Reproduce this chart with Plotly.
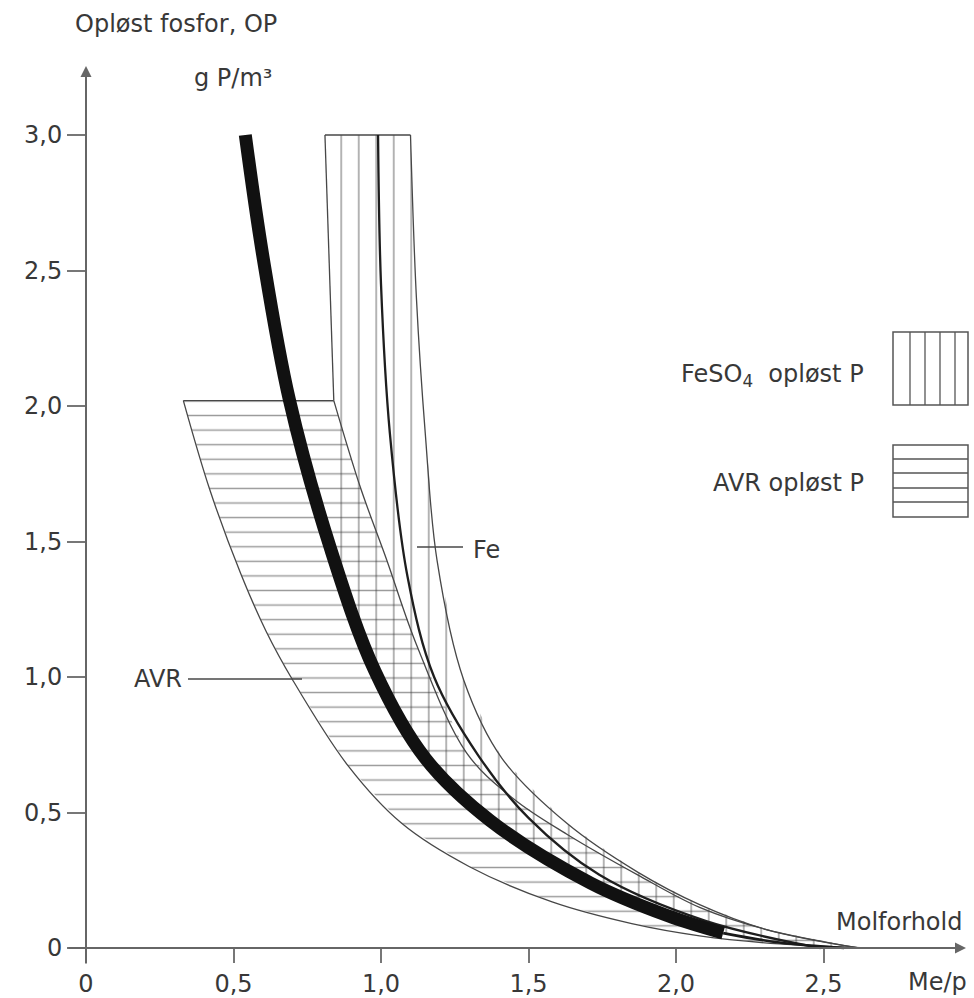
import plotly.graph_objects as go

# ---------------- data ----------------
# thick black curve (Me/p vs dissolved P)
thick_x = [0.54, 0.60, 0.69, 0.83, 0.98, 1.15, 1.37, 1.71, 1.97, 2.16]
thick_y = [3.00, 2.55, 2.02, 1.47, 1.02, 0.70, 0.47, 0.24, 0.12, 0.055]
# thin continuation of the thick curve
tail_x = [2.16, 2.35, 2.57]
tail_y = [0.055, 0.02, 0.00]

# AVR band (horizontal hatching)
avr_top_x = [0.33, 0.84]
avr_top_y = [2.02, 2.02]
avr_lower_x = [0.33, 0.42, 0.525, 0.61, 0.70, 0.89, 1.07, 1.30, 1.58, 1.85, 2.08, 2.35, 2.65]
avr_lower_y = [2.02, 1.69, 1.38, 1.17, 0.99, 0.67, 0.46, 0.30, 0.17, 0.09, 0.045, 0.015, 0.0]
avr_right_x = [0.84, 0.93, 1.02, 1.12, 1.29, 1.45, 1.63, 1.87, 2.08, 2.30, 2.62]
avr_right_y = [2.02, 1.70, 1.43, 1.12, 0.72, 0.55, 0.42, 0.27, 0.15, 0.07, 0.0]

# FeSO4 band (vertical hatching)
fe_top_x = [0.81, 1.10]
fe_top_y = [3.00, 3.00]
fe_left_x = [0.81, 0.84, 0.85]
fe_left_y = [3.00, 2.02, 1.42]
fe_right_x = [1.10, 1.12, 1.15, 1.19, 1.28, 1.41, 1.63, 1.87, 2.08, 2.30, 2.62]
fe_right_y = [3.00, 2.40, 1.90, 1.43, 0.99, 0.70, 0.46, 0.28, 0.16, 0.07, 0.0]
fe_center_x = [0.99, 1.00, 1.03, 1.09, 1.18, 1.33, 1.50, 1.74, 2.10, 2.49]
fe_center_y = [3.00, 2.45, 1.90, 1.37, 1.00, 0.71, 0.48, 0.27, 0.10, 0.0]

# axis ticks
x_tickvals = [0, 0.5, 1.0, 1.5, 2.0, 2.5]
x_ticktext = ["0", "0,5", "1,0", "1,5", "2,0", "2,5"]
y_tickvals = [0, 0.5, 1.0, 1.5, 2.0, 2.5, 3.0]
y_ticktext = ["0", "0,5", "1,0", "1,5", "2,0", "2,5", "3,0"]

# ---------------- layout geometry ----------------
W, H = 974, 998
X0_PX, X_SCALE = 86, 295
Y0_PX, Y_SCALE = 948, 271
x_range = [(0 - X0_PX) / X_SCALE, (W - X0_PX) / X_SCALE]
y_range = [(Y0_PX - H) / Y_SCALE, Y0_PX / Y_SCALE]


def px_x(p):
    return (p - X0_PX) / X_SCALE


def px_y(p):
    return (Y0_PX - p) / Y_SCALE


def pp_x(p):
    return p / W


def pp_y(p):
    return 1 - p / H


FONT = "DejaVu Sans"
TXT = "#383838"
LINE = "#474747"
HATCH = "#363636"

fig = go.Figure()

# --- hatched fills ---
avr_poly_x = avr_top_x + avr_right_x[1:] + avr_lower_x[::-1][:-1]
avr_poly_y = avr_top_y + avr_right_y[1:] + avr_lower_y[::-1][:-1]
fig.add_trace(go.Scatter(
    x=avr_poly_x, y=avr_poly_y, mode="lines", fill="toself",
    fillcolor="rgba(0,0,0,0)", line=dict(width=0, color="rgba(0,0,0,0)"),
    fillpattern=dict(shape="-", size=14.58, solidity=0.1, fgcolor=HATCH),
    hoverinfo="skip", showlegend=False))

thick_rev = [(x, y) for x, y in zip(thick_x[::-1], thick_y[::-1]) if x > fe_left_x[-1]]
tail_rev = list(zip(tail_x[::-1], tail_y[::-1]))
fe_poly = (list(zip(fe_top_x, fe_top_y)) + list(zip(fe_right_x[1:], fe_right_y[1:]))
           + tail_rev + thick_rev[1:] + list(zip(fe_left_x[::-1], fe_left_y[::-1])))
fig.add_trace(go.Scatter(
    x=[p[0] for p in fe_poly], y=[p[1] for p in fe_poly], mode="lines", fill="toself",
    fillcolor="rgba(0,0,0,0)", line=dict(width=0, color="rgba(0,0,0,0)"),
    fillpattern=dict(shape="|", size=17.5, solidity=0.085, fgcolor=HATCH),
    hoverinfo="skip", showlegend=False))

# --- boundary lines ---
def add_line(xs, ys, width=1.3, color=LINE, shape="spline"):
    fig.add_trace(go.Scatter(x=xs, y=ys, mode="lines",
                             line=dict(width=width, color=color, shape=shape),
                             hoverinfo="skip", showlegend=False))


add_line(avr_top_x, avr_top_y, shape="linear")
add_line(avr_lower_x, avr_lower_y)
add_line(avr_right_x, avr_right_y)
add_line(fe_top_x, fe_top_y, shape="linear")
add_line(fe_left_x[:2], fe_left_y[:2], shape="linear")
add_line(fe_right_x, fe_right_y)
add_line(fe_center_x, fe_center_y, width=2.3, color="#1e1e1e")
add_line(tail_x, tail_y, width=2.6, color="#1a1a1a")
add_line(thick_x, thick_y, width=13, color="#111111")

axis_common = dict(showgrid=False, zeroline=False, showline=False, ticks="outside",
                   tickwidth=2, tickcolor="#777777", anchor="free",
                   tickfont=dict(family=FONT, size=24, color=TXT), fixedrange=True)

fig.update_layout(
    width=W, height=H, margin=dict(l=0, r=0, t=0, b=0),
    paper_bgcolor="white", plot_bgcolor="white",
    xaxis=dict(range=x_range, tickvals=x_tickvals, ticktext=x_ticktext, ticklen=14,
               position=(H - Y0_PX) / H, **axis_common),
    yaxis=dict(range=y_range, tickvals=y_tickvals, ticktext=y_ticktext, ticklen=19,
               position=X0_PX / W, **axis_common),
)

# --- axis arrows ---
fig.add_annotation(x=px_x(966), y=0, ax=px_x(67), ay=0, xref="x", yref="y",
                   axref="x", ayref="y", text="", showarrow=True, arrowhead=2,
                   arrowsize=1.1, arrowwidth=2, arrowcolor="#666666", standoff=0)
fig.add_annotation(x=0, y=px_y(66), ax=0, ay=px_y(965), xref="x", yref="y",
                   axref="x", ayref="y", text="", showarrow=True, arrowhead=2,
                   arrowsize=1.1, arrowwidth=2, arrowcolor="#666666", standoff=0)

# --- texts ---
def add_text(text, xpx, ypx, anchor="left", size=24):
    fig.add_annotation(x=pp_x(xpx), y=pp_y(ypx), xref="paper", yref="paper",
                       text=text, showarrow=False, xanchor=anchor, yanchor="middle",
                       font=dict(family=FONT, size=size, color=TXT))


add_text("Opløst fosfor, OP", 73, 24)
add_text("g P/m³", 192, 78)
add_text("AVR", 184, 679, anchor="right")
add_text("Fe", 471, 550)
add_text("Molforhold", 834, 922)
add_text("Me/p", 906, 982)
add_text("FeSO<sub>4</sub>  opløst P", 866, 375, anchor="right")
add_text("AVR opløst P", 866, 483, anchor="right")

# label leader lines
fig.add_shape(type="line", xref="x", yref="y", x0=px_x(188), x1=px_x(302),
              y0=px_y(679), y1=px_y(679), line=dict(color=LINE, width=1.3))
fig.add_shape(type="line", xref="x", yref="y", x0=px_x(417), x1=px_x(463),
              y0=px_y(547), y1=px_y(547), line=dict(color=LINE, width=1.3))

# --- legend keys ---
def box(x0, y0, x1, y1):
    fig.add_shape(type="rect", xref="paper", yref="paper", x0=pp_x(x0), x1=pp_x(x1),
                  y0=pp_y(y1), y1=pp_y(y0), line=dict(color="#555555", width=1.5))


box(893, 332, 968, 405)
for xp in [910, 925, 940, 955]:
    fig.add_shape(type="line", xref="paper", yref="paper", x0=pp_x(xp), x1=pp_x(xp),
                  y0=pp_y(405), y1=pp_y(332), line=dict(color="#555555", width=1.3))
box(893, 445, 968, 517)
for yp in [459, 473, 488, 502]:
    fig.add_shape(type="line", xref="paper", yref="paper", x0=pp_x(893), x1=pp_x(968),
                  y0=pp_y(yp), y1=pp_y(yp), line=dict(color="#555555", width=1.3))

fig.write_html(
    "out.html",
    config={"displayModeBar": False},
    post_script="document.body.style.margin='0';document.body.style.overflow='hidden';",
)
